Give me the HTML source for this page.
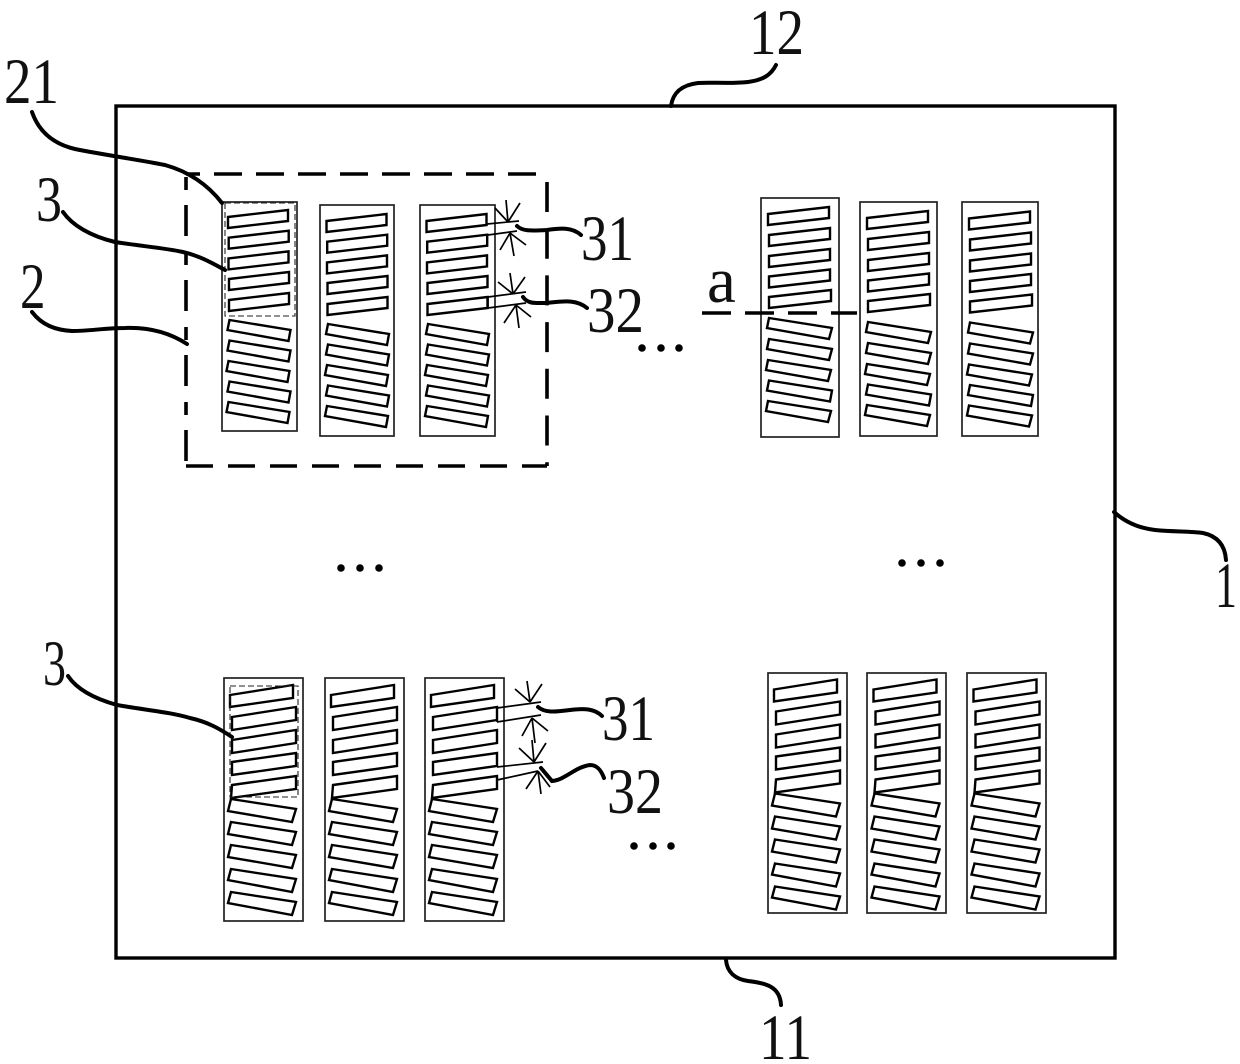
<!DOCTYPE html>
<html><head><meta charset="utf-8"><style>
html,body{margin:0;padding:0;background:#fff}
svg{display:block}
text{font-family:"Liberation Serif",serif;font-size:65px;fill:#111}
.s polygon{fill:none;stroke:#000;stroke-width:2.4;stroke-linejoin:miter}
.c{fill:none;stroke:#222;stroke-width:1.7}
.l{fill:none;stroke:#000;stroke-width:4;stroke-linecap:round}
.d{fill:none;stroke:#000;stroke-width:3.6}
.t{fill:none;stroke:#000;stroke-width:1.7}
.td{fill:none;stroke:#222;stroke-width:1.1;stroke-dasharray:6 3}
</style></head><body>
<svg width="1240" height="1064" viewBox="0 0 1240 1064" xmlns="http://www.w3.org/2000/svg">
<defs>
<g id="T" class="s">
<polygon points="6.5,16 66.5,9 66.5,20 6.5,27"/>
<polygon points="7.2,36.7 67.2,29.7 67.2,40.7 7.2,47.7"/>
<polygon points="7,57.4 67,50.4 67,61.4 7,68.4"/>
<polygon points="7.5,78 67.5,71 67.5,82 7.5,89"/>
<polygon points="7.5,99 67.5,92 67.5,103 7.5,110"/>
<polygon points="8,119 69,129 67,140 6,129"/>
<polygon points="8,139.5 69,149.5 67,160.5 6,149.5"/>
<polygon points="7,160 68,170 66,181 5,170"/>
<polygon points="8,180.5 69,190.5 67,201.5 6,190.5"/>
<polygon points="7,201 68,211 66,222 5,211"/>
</g>
<g id="R" class="s">
<polygon points="7,17 68,10 68,21 7,28"/>
<polygon points="8,38 69,31 69,42 8,49"/>
<polygon points="8,59 69,52 69,63 8,70"/>
<polygon points="8,79.500 69,72.500 69,83.500 8,90.500"/>
<polygon points="8,100 70,93 70,104 8,111"/>
<polygon points="8,121 71,131 68,142 6,131"/>
<polygon points="8,142 71,152 68,163 6,152"/>
<polygon points="7,163 70,173 67,184 5,173"/>
<polygon points="8,183.500 71,193.500 69,204.500 6,193.500"/>
<polygon points="7,204 70,214 67,225 5,214"/>
</g>
<g id="B" class="s">
<polygon points="6,17 69,7 69,20 6,29"/>
<polygon points="8,39 72,29 72,42 8,52"/>
<polygon points="8,62 72,52 72,65 8,75"/>
<polygon points="8,84 72,75 72,88 8,97"/>
<polygon points="8,107 72,98 72,111 7,120"/>
<polygon points="7,121 72,131 68,144 4,133"/>
<polygon points="7,144 72,154 68,167 4,156"/>
<polygon points="7,167 72,177 68,190 4,179"/>
<polygon points="7,191 72,201 68,214 4,202"/>
<polygon points="7,214 72,224 68,237 4,225"/>
</g>
</defs>

<rect x="116" y="106" width="999" height="852" fill="none" stroke="#000" stroke-width="3.4"/>

<!-- dashed region -->
<g class="d">
<path d="M186 174H538" stroke-dasharray="14 14 28 14 28 14 28 14 28 14 28 14 28 14 28 14 28 14"/>
<path d="M186 177V466" stroke-dasharray="13 15 31 16"/>
<path d="M186 466H547" stroke-dasharray="27 15"/>
<path d="M547 182V466" stroke-dasharray="30 16.700"/>
</g>

<!-- top-left columns -->
<rect class="c" x="222" y="202" width="75" height="229"/>
<rect class="c" x="320" y="205" width="74" height="231"/>
<rect class="c" x="420" y="205" width="75" height="231"/>
<use href="#T" x="221.500" y="201"/>
<use href="#T" x="320" y="205"/>
<use href="#T" x="420" y="205"/>
<rect class="td" x="225" y="203" width="70" height="113"/>

<!-- top-right columns -->
<rect class="c" x="761" y="198" width="78" height="239"/>
<rect class="c" x="860" y="202" width="77" height="234"/>
<rect class="c" x="962" y="202" width="76" height="234"/>
<use href="#R" x="761" y="197"/>
<use href="#R" x="860" y="201"/>
<use href="#R" x="962" y="201.500"/>

<!-- bottom-left columns -->
<rect class="c" x="224" y="678" width="79" height="243"/>
<rect class="c" x="325" y="678" width="79" height="243"/>
<rect class="c" x="425" y="678" width="79" height="243"/>
<use href="#B" x="224" y="678"/>
<use href="#B" x="325" y="678"/>
<use href="#B" x="425" y="678"/>
<rect class="td" x="230" y="686" width="68" height="111"/>

<!-- bottom-right columns -->
<rect class="c" x="768" y="673" width="79" height="240"/>
<rect class="c" x="867" y="673" width="79" height="240"/>
<rect class="c" x="967" y="673" width="79" height="240"/>
<use href="#B" x="768" y="672.500"/>
<use href="#B" x="867.500" y="672.500"/>
<use href="#B" x="967.500" y="672.500"/>

<!-- section line a -->
<path d="M702 313H857" class="d" stroke-dasharray="29 14"/>

<!-- dimension marks top -->
<g class="t">
<path d="M487 224L519 221M488 235L517 231M488 297L526 292M488 308L526 303M488 297V308"/>
<path d="M508 222L506 200M508 222L495 208M508 222L520 203"/>
<path d="M510 233L514 256M510 233L500 250M510 233L526 245"/>
<path d="M513 294L510 273M513 294L498 282M513 294L525 277"/>
<path d="M516 305L519 328M516 305L504 323M516 305L531 317"/>
</g>
<!-- dimension marks bottom -->
<g class="t">
<path d="M497 708L541 702M497 722L541 715M497 708V722M497 767L543 762M497 780L538 771"/>
<path d="M530 702L527 681M530 702L515 689M530 702L542 684"/>
<path d="M532 718L535 743M532 718L522 736M532 718L548 731"/>
<path d="M534 762L532 740M534 762L519 748M534 762L546 743"/>
<path d="M538 771L541 794M538 771L526 789M538 771L550 787"/>
</g>

<!-- leaders -->
<g class="l">
<path d="M32 112C40 135,58 145,75 149C105 155,140 160,165 165C190 172,208 185,222 203"/>
<path d="M63 212C72 225,90 236,115 242C140 246,165 248,183 252C200 256,212 263,225 270"/>
<path d="M32 312C42 325,55 330,72 331C90 331,105 328,125 328C150 327,170 333,187 344"/>
<path d="M671 106C673 92,682 85,698 83C712 82,730 84,748 82C763 80,771 75,776 65"/>
<path d="M1114 512C1125 522,1138 528,1155 530C1175 532,1190 531,1203 533C1217 536,1225 545,1226 560"/>
<path d="M726 960C727 972,735 979,748 981C765 983,780 986,781 1005"/>
<path d="M517 226C522 231,530 231,547 230C560 228,572 227,581 235"/>
<path d="M523 297C528 304,535 303,545 303C560 302,575 298,587 308"/>
<path d="M538 707C545 713,555 712,570 710C585 708,595 709,602 716"/>
<path d="M541 768L552 781C565 780,575 767,590 765C597 765,601 770,604 778"/>
<path d="M68 676C76 688,92 698,117 705C145 710,170 712,190 718C208 722,220 729,232 737"/>
</g>

<!-- ellipsis dots -->
<g fill="#000">
<circle cx="642" cy="348" r="3.800"/><circle cx="661" cy="348" r="3.800"/><circle cx="679" cy="348" r="3.800"/>
<circle cx="341" cy="568" r="3.800"/><circle cx="360" cy="568" r="3.800"/><circle cx="379" cy="568" r="3.800"/>
<circle cx="902" cy="563" r="3.800"/><circle cx="921" cy="563" r="3.800"/><circle cx="940" cy="563" r="3.800"/>
<circle cx="634" cy="846" r="3.800"/><circle cx="653" cy="846" r="3.800"/><circle cx="671" cy="846" r="3.800"/>
</g>

<!-- labels -->
<text x="4" y="103" textLength="55" lengthAdjust="spacingAndGlyphs">21</text>
<text x="749" y="54" textLength="55" lengthAdjust="spacingAndGlyphs">12</text>
<text x="759" y="1059" textLength="53" lengthAdjust="spacingAndGlyphs">11</text>
<text x="1215" y="607" textLength="22" lengthAdjust="spacingAndGlyphs">1</text>
<text x="36" y="221" textLength="26" lengthAdjust="spacingAndGlyphs">3</text>
<text x="20" y="308" textLength="25.500" lengthAdjust="spacingAndGlyphs">2</text>
<text x="43" y="685" textLength="23" lengthAdjust="spacingAndGlyphs">3</text>
<text x="581" y="260" textLength="53" lengthAdjust="spacingAndGlyphs">31</text>
<text x="587" y="332" textLength="57" lengthAdjust="spacingAndGlyphs">32</text>
<text x="602" y="740" textLength="53" lengthAdjust="spacingAndGlyphs">31</text>
<text x="607" y="813" textLength="56" lengthAdjust="spacingAndGlyphs">32</text>
<text x="707" y="302">a</text>
</svg>
</body></html>
